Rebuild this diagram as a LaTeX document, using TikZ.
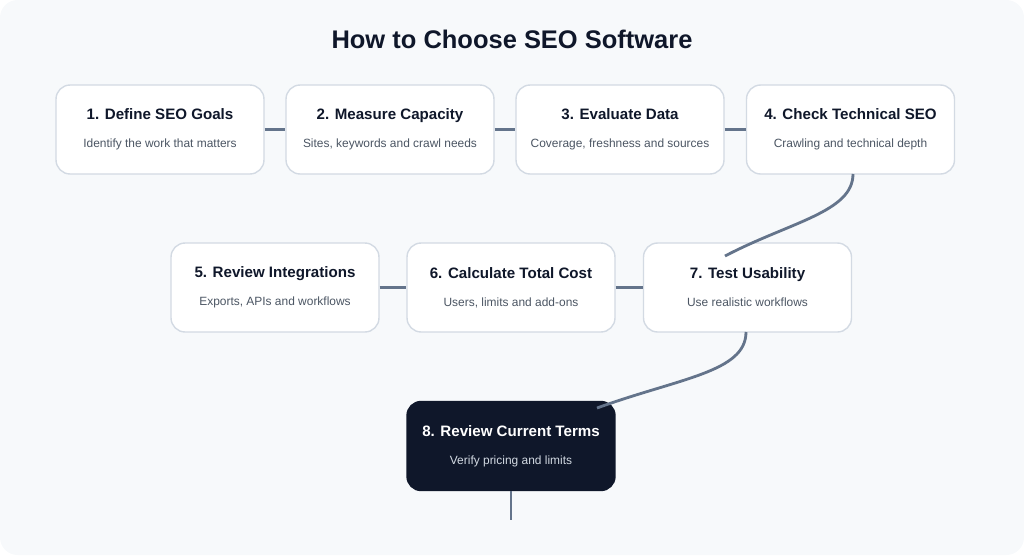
\documentclass[tikz,border=0pt]{standalone}
\usepackage{fontspec}
\setmainfont{Liberation Sans}
\usetikzlibrary{positioning}
\definecolor{bgcol}{HTML}{F7F9FB}
\definecolor{navy}{HTML}{0F172A}
\definecolor{edgecol}{HTML}{D3DAE3}
\definecolor{linkcol}{HTML}{64748B}
\definecolor{subcol}{HTML}{4B5563}
\tikzset{stage/.style = {draw=edgecol, line width=0.8pt, fill=white, rounded corners=8pt,
                        minimum width=4.16cm, minimum height=1.78cm, align=center,
                        inner sep=0, font=\fontsize{8.6}{12}\selectfont\bfseries, text=navy}}
\tikzset{laststage/.style = {stage, fill=navy, draw=navy, text=white}}
\tikzset{link/.style = {draw=linkcol, line width=1.6pt}}
\newcommand{\stagetext}[2]{#1\\[4pt]{\fontsize{6.8}{9}\selectfont\mdseries\color{subcol}#2}}
\newcommand{\laststagetext}[2]{#1\\[4pt]{\fontsize{6.8}{9}\selectfont\mdseries\color{edgecol}#2}}

\begin{document}
\begin{tikzpicture}[x=0.02cm, y=-0.02cm]
      \fill [bgcol, rounded corners=10pt] (0, 0) rectangle (1024, 555);
      \useasboundingbox (0, 0) rectangle (1024, 555);

      \node [font=\fontsize{14.5}{17}\selectfont\bfseries, text=navy] (title) at (512, 39) {How to Choose SEO Software};

      % first row
      \node [stage] (g1) at (160, 129.5) {\stagetext{1. Define SEO Goals}{Identify the work that matters}};
      \node [stage] (g2) at (390, 129.5) {\stagetext{2. Measure Capacity}{Sites, keywords and crawl needs}};
      \node [stage] (g3) at (620, 129.5) {\stagetext{3. Evaluate Data}{Coverage, freshness and sources}};
      \node [stage] (g4) at (850.5, 129.5) {\stagetext{4. Check Technical SEO}{Crawling and technical depth}};

      % second row
      \node [stage] (g5) at (275, 287.5) {\stagetext{5. Review Integrations}{Exports, APIs and workflows}};
      \node [stage] (g6) at (511, 287.5) {\stagetext{6. Calculate Total Cost}{Users, limits and add-ons}};
      \node [stage] (g7) at (747.5, 287.5) {\stagetext{7. Test Usability}{Use realistic workflows}};

      % last stage
      \node [laststage] (g8) at (511, 446) {\laststagetext{8. Review Current Terms}{Verify pricing and limits}};

      \coordinate (in7) at (725, 256);
      \coordinate (in8) at (597, 408);
      \coordinate (tail) at (511, 520);

      \draw [link] (g1.east) -- (g2.west);
      \draw [link] (g2.east) -- (g3.west);
      \draw [link] (g3.east) -- (g4.west);
      \draw [link] (g5.east) -- (g6.west);
      \draw [link] (g6.east) -- (g7.west);
      \draw [link] (853, 174) .. controls (853, 212) and (790, 222) .. (in7);
      \draw [link] (746, 332) .. controls (746, 372) and (680, 378) .. (in8);
      \draw [link] (g8.south) -- (tail);
\end{tikzpicture}
\end{document}
